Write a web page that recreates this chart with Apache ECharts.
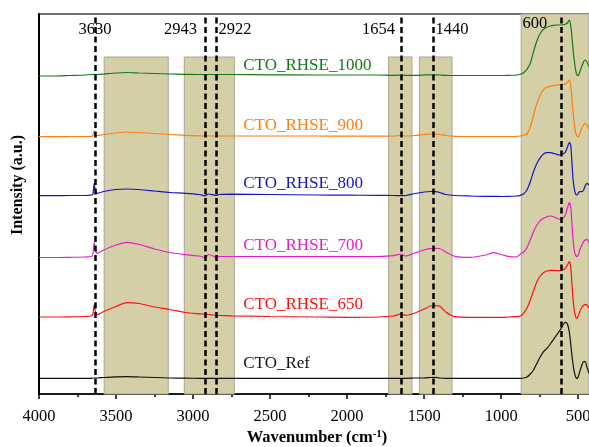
<!DOCTYPE html>
<html>
<head>
<meta charset="utf-8">
<script src="https://cdn.jsdelivr.net/npm/echarts@6/dist/echarts.min.js"></script>
<style>
html, body { margin: 0; padding: 0; background: #fff; }
#chart { width: 589px; height: 447px; }
</style>
</head>
<body>
<div id="chart"></div>
<script>
// wavenumber grid (cm-1), shared by all spectra
var wavenumber = [4000, 3900, 3800, 3700, 3660, 3650, 3642, 3635, 3620, 3580, 3500, 3430, 3350, 3250, 3150, 3050,
    2960, 2935, 2922, 2900, 2870, 2850, 2830, 2750, 2500, 2200, 2000, 1800, 1700, 1650, 1620, 1560,
    1500, 1460, 1430, 1400, 1360, 1300, 1200, 1100, 1050, 1000, 950, 900,
    876, 855, 833, 811, 790, 768, 746, 725, 703, 681, 660, 640,
    617, 600, 584, 570, 558, 549, 541, 533, 526, 517, 508, 500,
    490, 476, 465, 455, 444, 430];

// stacked intensities (a.u.), offsets as plotted
var rhse1000 = [318, 318, 318.5, 319, 319.5, 319.5, 319.7, 319.5, 319.5, 320, 321, 321.5, 321, 320.5, 320, 319.7,
    319.5, 319.5, 319.3, 319.5, 319.5, 319.3, 319.5, 319.5, 319.2, 319, 319, 319, 318.7, 319, 318.7, 318.7,
    319, 319.2, 319.2, 319, 318.7, 318.5, 318.5, 318.5, 318.5, 318.5, 318.7, 319,
    319.7, 321.3, 324.7, 330.7, 342.3, 353.3, 360.7, 364.7, 366.7, 368, 368.7, 369,
    369, 369.3, 369.7, 371, 374, 369, 357.3, 344, 334, 324, 319, 318.3,
    322.3, 328, 332.3, 334, 332.3, 327.3];
var rhse900 = [257.3, 257.3, 257.5, 257.5, 257.7, 259, 263, 259.5, 258.5, 259.5, 261, 262, 261.5, 260.5, 259.5, 258.7,
    258.2, 258, 258, 258, 258, 258, 258, 258, 258, 258, 257.8, 257.8, 258, 258.5, 258, 258.5,
    259.5, 260, 260, 259.5, 258.5, 257.7, 257.5, 257.5, 257.5, 257.5, 257.5, 257.7,
    258, 259, 260, 266.7, 279, 290.7, 299, 304.7, 306.7, 307.7, 308.3, 309,
    309.3, 309.7, 310, 311.7, 314, 309, 295.7, 280.7, 270.7, 261.3, 258, 257.3,
    260, 265.7, 269, 270.7, 269, 264.7];
var rhse800 = [198.3, 198.3, 198.5, 198.5, 199, 200, 210.7, 204, 200.7, 202.5, 204.5, 205, 204.5, 203, 201.5, 200.7,
    199.5, 198.5, 198, 200, 199.2, 198.5, 199.5, 199.8, 199.5, 199, 198.8, 198.7, 198.5, 198.3, 198.5, 200.5,
    202, 202.5, 202.3, 201.5, 199.5, 198.5, 198, 197.7, 197.7, 197.5, 197.7, 198,
    198.7, 200, 204, 212.3, 222.3, 230.7, 236.3, 240, 241.3, 241.3, 240.7, 239.7,
    239, 240, 241.7, 246.7, 251.7, 249, 232.3, 214, 205.7, 200, 199, 200.7,
    202.3, 202.3, 204, 208, 210.7, 209];
var rhse700 = [136.5, 136.5, 136.7, 137, 137.5, 140, 151.3, 144, 140.7, 144, 149, 151.7, 149.5, 145, 141.5, 139.3,
    138, 137, 135.7, 139.5, 138, 136, 137.5, 137.5, 137.5, 137.3, 137.3, 137.5, 138.3, 140, 138, 141,
    144, 145.3, 145.7, 145.5, 142, 137.7, 136.7, 139, 141.3, 139.5, 137.5, 137,
    140, 141.7, 146.3, 154, 162.3, 169, 173.3, 175.7, 177.3, 178, 177.3, 175.7,
    174.7, 175.7, 179, 185.7, 191.3, 187.3, 170.7, 154, 144, 139, 137.3, 139,
    144, 149, 152.3, 154, 154.7, 150.7];
var rhse650 = [77, 77, 77.2, 77.5, 78, 80, 89, 83, 79.5, 82.5, 87.5, 91.3, 90.5, 87, 84.5, 81.5,
    80.2, 80, 79.7, 79.5, 79, 78.7, 78.5, 78.2, 77.5, 77, 76.7, 77, 78, 80, 78.7, 81,
    85, 88, 88.3, 88, 82, 77.3, 76.7, 76.7, 76.7, 76.7, 77, 77.3,
    78, 80.7, 85.7, 94, 103.3, 112.3, 118, 121.3, 123, 123.7, 123.7, 123.3,
    123.3, 124, 125.7, 129, 132.3, 127.3, 110.7, 94, 84, 77.3, 75.7, 78,
    82.3, 86.7, 88.7, 89.7, 89, 85.7];
var ctoRef = [15.7, 15.7, 15.7, 15.7, 15.7, 16, 16, 16, 16, 16.5, 17.2, 17.3, 17, 16.5, 16, 15.8,
    15.7, 15.7, 15.7, 15.7, 15.7, 15.7, 15.7, 15.7, 15.7, 15.7, 15.7, 15.7, 15.7, 15.7, 15.7, 16,
    16, 16.5, 16.7, 16, 15.7, 15.7, 15.7, 15.7, 15.7, 15.7, 15.7, 15.7,
    15.7, 16, 17, 20, 24, 30.7, 37.3, 42.3, 45.7, 50, 54.7, 59,
    64, 69, 71.7, 70, 62.3, 50.7, 39, 29, 22.3, 17.3, 15.3, 17.3,
    22.3, 29, 32.3, 32.3, 27.3, 20.7];

var sampleNames = ['CTO_RHSE_1000', 'CTO_RHSE_900', 'CTO_RHSE_800', 'CTO_RHSE_700', 'CTO_RHSE_650', 'CTO_Ref'];
var sampleData = [rhse1000, rhse900, rhse800, rhse700, rhse650, ctoRef];

// axis ticks (cm-1)
var majorTicks = [4000, 3500, 3000, 2500, 2000, 1500, 1000, 500];
var minorTicks = [3750, 3250, 2750, 2250, 1750, 1250, 750];

// marked bands (cm-1) and peak positions
var bands = [[3577, 3161], [3057, 2732], [1731, 1579], [1531, 1319], [870, 430]];
var peakLines = [3636, 2922, 2848, 1650, 1440, 610];
var peakNames = ['3630', '2943', '2922', '1654', '1440', '600'];

// styles
var colors = ['#137a13', '#ff7f0e', '#1414c8', '#e61ec8', '#ff1010', '#111111'];
var nameLift = [-9, -10, -11, -11, -12, -15];
var peakPos = ['inside', 'left', 'right', 'left', 'right', 'left'];
var peakGap = [0, 8, 2, 6, 2, 14];
var font = '"Liberation Serif", "Times New Roman", serif';

var chart = echarts.init(document.getElementById('chart'));

var series = [];

// shaded bands
series.push({
    type: 'line',
    data: [],
    z: 1,
    silent: true,
    markArea: {
        silent: true,
        itemStyle: { color: '#d4cfa6', borderColor: '#a9a693', borderWidth: 1 },
        data: bands.map(function (b, i) {
            var top = i === bands.length - 1 ? 380 : 337;
            return [{ xAxis: b[0], yAxis: 0 }, { xAxis: b[1], yAxis: top }];
        })
    }
});

sampleData.forEach(function (vals, i) {
    series.push({
        name: sampleNames[i],
        type: 'line',
        z: 3,
        smooth: 0.25,
        symbol: 'none',
        lineStyle: { color: colors[i], width: 1.2 },
        data: wavenumber.map(function (w, k) { return [w, vals[k]]; }),
        markPoint: {
            symbol: 'circle',
            symbolSize: 0,
            silent: true,
            label: {
                show: true,
                position: 'right',
                distance: 4,
                offset: [0, nameLift[i]],
                formatter: sampleNames[i],
                color: colors[i],
                fontFamily: font,
                fontSize: 17
            },
            data: [{ coord: [2700, vals[wavenumber.indexOf(2500)]] }]
        }
    });
});

// dashed peak lines with their labels
series.push({
    type: 'line',
    data: [],
    z: 5,
    markLine: {
        silent: true,
        symbol: 'none',
        label: { show: false },
        lineStyle: { color: '#000', type: [6, 3.5], width: 2.5 },
        data: peakLines.map(function (p) {
            return [{ coord: [p, 0] }, { coord: [p, 377] }];
        })
    },
    markPoint: {
        symbol: 'circle',
        symbolSize: 0,
        silent: true,
        data: peakLines.map(function (p, i) {
            return {
                coord: [p, i === peakLines.length - 1 ? 370 : 364],
                label: {
                    show: true,
                    position: peakPos[i],
                    distance: peakGap[i],
                    formatter: peakNames[i],
                    color: '#000',
                    fontFamily: font,
                    fontSize: 16.5
                }
            };
        })
    }
});

var option = {
    animation: false,
    grid: {
        left: 39, right: 0, top: 14, bottom: 53,
        outerBoundsMode: 'none',
        containLabel: false,
        show: true, borderColor: '#444', borderWidth: 1.5
    },
    xAxis: [
        {
            type: 'value',
            inverse: true,
            min: 430,
            max: 4000,
            axisLine: { show: true, lineStyle: { color: '#000', width: 1.5 } },
            axisTick: { show: true, inside: false, length: 5, customValues: majorTicks, lineStyle: { color: '#000', width: 1.5 } },
            splitLine: { show: false },
            axisLabel: {
                color: '#000', fontFamily: font, fontSize: 16.5, margin: 14,
                customValues: majorTicks,
                formatter: function (v) { return String(v); }
            }
        },
        {
            type: 'value',
            inverse: true,
            min: 430,
            max: 4000,
            position: 'bottom',
            axisLine: { show: false },
            axisTick: { show: true, inside: false, length: 3, customValues: minorTicks, lineStyle: { color: '#000', width: 1.5 } },
            axisLabel: { show: false, customValues: minorTicks },
            splitLine: { show: false }
        }
    ],
    yAxis: {
        type: 'value',
        min: 0,
        max: 380,
        axisLine: { show: true, lineStyle: { color: '#000', width: 2 } },
        axisTick: { show: false },
        axisLabel: { show: false },
        splitLine: { show: false }
    },
    graphic: [
        {
            type: 'text',
            x: 18, y: 185,
            rotation: Math.PI / 2,
            style: {
                text: 'Intensity (a.u.)',
                fill: '#000',
                font: 'bold 16px ' + font,
                align: 'center',
                verticalAlign: 'middle'
            }
        },
        {
            type: 'text',
            x: 317, y: 438,
            style: {
                text: 'Wavenumber (cm{sup|-1})',
                fill: '#000',
                font: 'bold 16.5px ' + font,
                align: 'center',
                verticalAlign: 'middle',
                rich: {
                    sup: { font: 'bold 11px ' + font, fill: '#000', padding: [0, 0, 8, 0] }
                }
            }
        }
    ],
    series: series
};

chart.setOption(option);
</script>
</body>
</html>
